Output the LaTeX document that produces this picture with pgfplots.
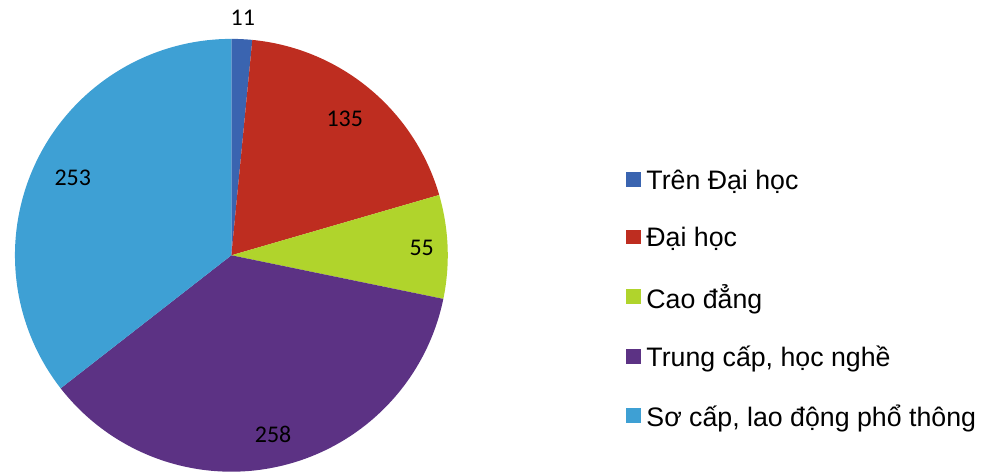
\documentclass[border=0pt]{standalone}
\usepackage{fontspec}
\setmainfont{Carlito}
\newfontfamily\legfont{Liberation Sans}
\usepackage{pgfplots}
\usepackage{pgfplotstable}
\pgfplotsset{compat=1.18}

\definecolor{pie0}{RGB}{58,100,176}
\definecolor{pie1}{RGB}{190,45,32}
\definecolor{pie2}{RGB}{176,212,44}
\definecolor{pie3}{RGB}{92,50,132}
\definecolor{pie4}{RGB}{62,160,212}

% value, and distance of its label from the centre (px)
\pgfplotstableread{
value lr
11  238
135 178
55  191
258 184
253 177
}\pietable

\newcommand\cx{232}
\newcommand\cy{220}
\newcommand\R{217}

\gdef\pietotal{0}
\foreach \i in {0,...,4}{%
  \pgfplotstablegetelem{\i}{value}\of\pietable
  \pgfmathsetmacro\pT{\pietotal+\pgfplotsretval}%
  \global\let\pietotal\pT
}
\gdef\pieacc{0}
\foreach \i in {0,...,4}{%
  \pgfplotstablegetelem{\i}{value}\of\pietable \let\pV\pgfplotsretval
  \pgfplotstablegetelem{\i}{lr}\of\pietable \let\pR\pgfplotsretval
  \pgfmathsetmacro\pA{90-\pieacc/\pietotal*360}%
  \pgfmathsetmacro\pB{90-(\pieacc+\pV)/\pietotal*360}%
  \pgfmathsetmacro\pM{(\pA+\pB)/2}%
  \pgfmathsetmacro\pX{\cx+\pR*cos(\pM)}%
  \pgfmathsetmacro\pY{\cy+\pR*sin(\pM)}%
  \expandafter\xdef\csname pa\i\endcsname{\pA}%
  \expandafter\xdef\csname pb\i\endcsname{\pB}%
  \expandafter\xdef\csname lx\i\endcsname{\pX}%
  \expandafter\xdef\csname ly\i\endcsname{\pY}%
  \expandafter\xdef\csname val\i\endcsname{\pV}%
  \pgfmathsetmacro\pN{\pieacc+\pV}%
  \global\let\pieacc\pN
}

\begin{document}
\begin{tikzpicture}
\begin{axis}[
  scale only axis, width=984pt, height=476pt,
  xmin=0, xmax=984, ymin=0, ymax=476,
  hide axis, clip=false,
  legend entries={Trên Đại học, Đại học, Cao đẳng, {Trung cấp, học nghề}, {Sơ cấp, lao động phổ thông}},
  legend image code/.code={\fill[#1,draw=none] (0pt,-7pt) rectangle (15pt,8pt);},
  legend cell align=left,
  legend style={at={(axis cs:625,476-165)}, anchor=north west, draw=none, fill=none,
    font=\legfont\fontsize{26.8}{31}\selectfont, row sep=30.5pt,
    nodes={inner xsep=5pt, inner ysep=3pt}},
]
\path (rel axis cs:0,0) rectangle (rel axis cs:1,1);
\pgfplotsinvokeforeach{0,...,4}{
  \addplot[draw=none, fill=pie#1, domain=\csname pb#1\endcsname:\csname pa#1\endcsname, samples=120]
    ({\cx+\R*cos(x)},{\cy+\R*sin(x)}) -- (axis cs:\cx,\cy) -- cycle;
  \node[font=\fontsize{24}{28}\selectfont, text=black] at (axis cs:\csname lx#1\endcsname,\csname ly#1\endcsname) {\csname val#1\endcsname};
}
\end{axis}
\end{tikzpicture}
\end{document}
